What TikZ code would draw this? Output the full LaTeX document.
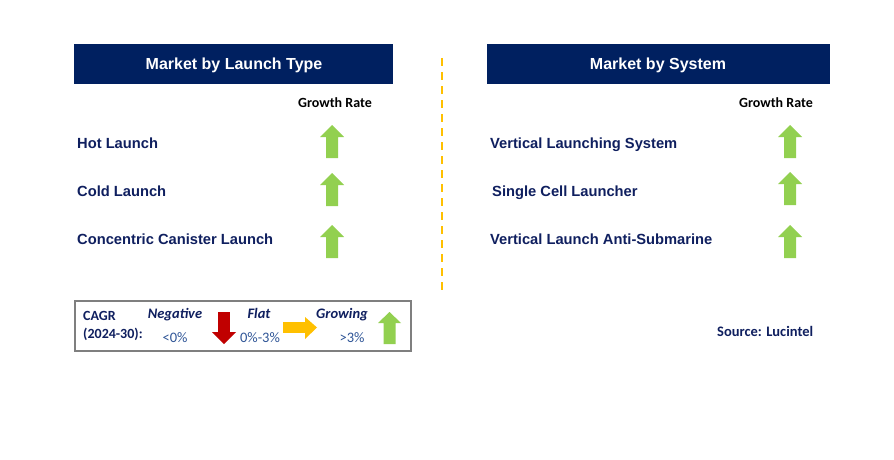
\documentclass[tikz,border=0pt]{standalone}
\usepackage{fontspec}
\setmainfont{Liberation Sans}
\newfontfamily\calib{Carlito}
\definecolor{navy}{HTML}{002060}
\definecolor{txtnavy}{HTML}{0F1F5F}
\definecolor{pctblue}{HTML}{2F5597}
\definecolor{arrgreen}{HTML}{92D050}
\definecolor{arrred}{HTML}{C00000}
\definecolor{arryellow}{HTML}{FFC000}
\definecolor{boxgray}{HTML}{7F7F7F}
\newcommand\greenup[2]{\fill[arrgreen] (#1,#2) -- ++(12,12) -- ++(-6,0) -- ++(0,21) -- ++(-12,0) -- ++(0,-21) -- ++(-6,0) -- cycle;}
\tikzset{
  header/.style={fill=navy, inner sep=0pt, anchor=north west},
  htext/.style={text=white, font=\fontsize{16}{18}\selectfont\bfseries, inner sep=0pt, anchor=base},
  item/.style={anchor=base west, text=txtnavy, font=\fontsize{14.7}{17}\selectfont\bfseries, inner sep=0pt},
  grate/.style={anchor=base, text=black, font=\calib\fontsize{14}{16}\selectfont\bfseries, inner sep=0pt},
  legb/.style={text=txtnavy, font=\calib\fontsize{14}{16}\selectfont\bfseries, inner sep=0pt},
  legi/.style={anchor=base, text=txtnavy, font=\calib\fontsize{14.5}{16}\selectfont\bfseries\itshape, inner sep=0pt},
  legp/.style={anchor=base, text=pctblue, font=\calib\fontsize{14.5}{16}\selectfont, inner sep=0pt},
}
\begin{document}
\begin{tikzpicture}[x=1pt,y=-1pt]
\path[use as bounding box, fill=white] (0,0) rectangle (894,460);
% headers
\node[header, minimum width=319pt, minimum height=40pt] (h1) at (74,44) {};
\node[htext] (h1t) at (234,70) {Market by Launch Type};
\node[header, minimum width=343pt, minimum height=40pt] (h2) at (487,44) {};
\node[htext] (h2t) at (658,70) {Market by System};
% growth rate labels
\node[grate] (g1) at (335,107.7) {Growth Rate};
\node[grate] (g2) at (776,107.7) {Growth Rate};
% left items
\node[item] (l1) at (77,148.3) {Hot Launch};
\node[item] (l2) at (77,196.5) {Cold Launch};
\node[item] (l3) at (77,244) {Concentric Canister Launch};
% right items
\node[item] (r1) at (490,148.3) {Vertical Launching System};
\node[item] (r2) at (492,196.5) {Single Cell Launcher};
\node[item] (r3) at (490,244) {Vertical Launch Anti-Submarine};
% arrows
\greenup{332}{125}
\greenup{332}{173}
\greenup{332}{225}
\greenup{790}{125}
\greenup{790}{172}
\greenup{790}{225}
% divider
\draw[arryellow, line width=2pt, dash pattern=on 8pt off 6pt] (442,58) -- (442,290);
% legend
\draw[boxgray, line width=1.5pt, fill=white] (75,301) rectangle (411,351);
\node[legb, anchor=base west] (c1) at (83,320) {CAGR};
\node[legb, anchor=base west] (c2) at (83,338.5) {(2024-30):};
\node[legi] (n1) at (175,318.3) {Negative};
\node[legp] (n2) at (175,342.3) {<0\%};
\fill[arrred] (218,312) rectangle (230,332);
\fill[arrred] (212,332) -- (236,332) -- (224,344) -- cycle;
\node[legi] (f1) at (259,318.3) {Flat};
\node[legp] (f2) at (260,342.3) {0\%-3\%};
\fill[arryellow] (283,322) rectangle (305,333);
\fill[arryellow] (305,317) -- (317,327.5) -- (305,339) -- cycle;
\node[legi] (gr1) at (342,318.3) {Growing};
\node[legp] (gr2) at (352,342.3) {>3\%};
\fill[arrgreen] (389.5,312) -- (401,323) -- (395.5,323) -- (395.5,344) -- (383.5,344) -- (383.5,323) -- (378,323) -- cycle;
% source
\node[text=txtnavy, font=\calib\fontsize{14.5}{16}\selectfont\bfseries, inner sep=0pt, anchor=base west] (src) at (717,336.7) {Source: Lucintel};
\end{tikzpicture}
\end{document}
